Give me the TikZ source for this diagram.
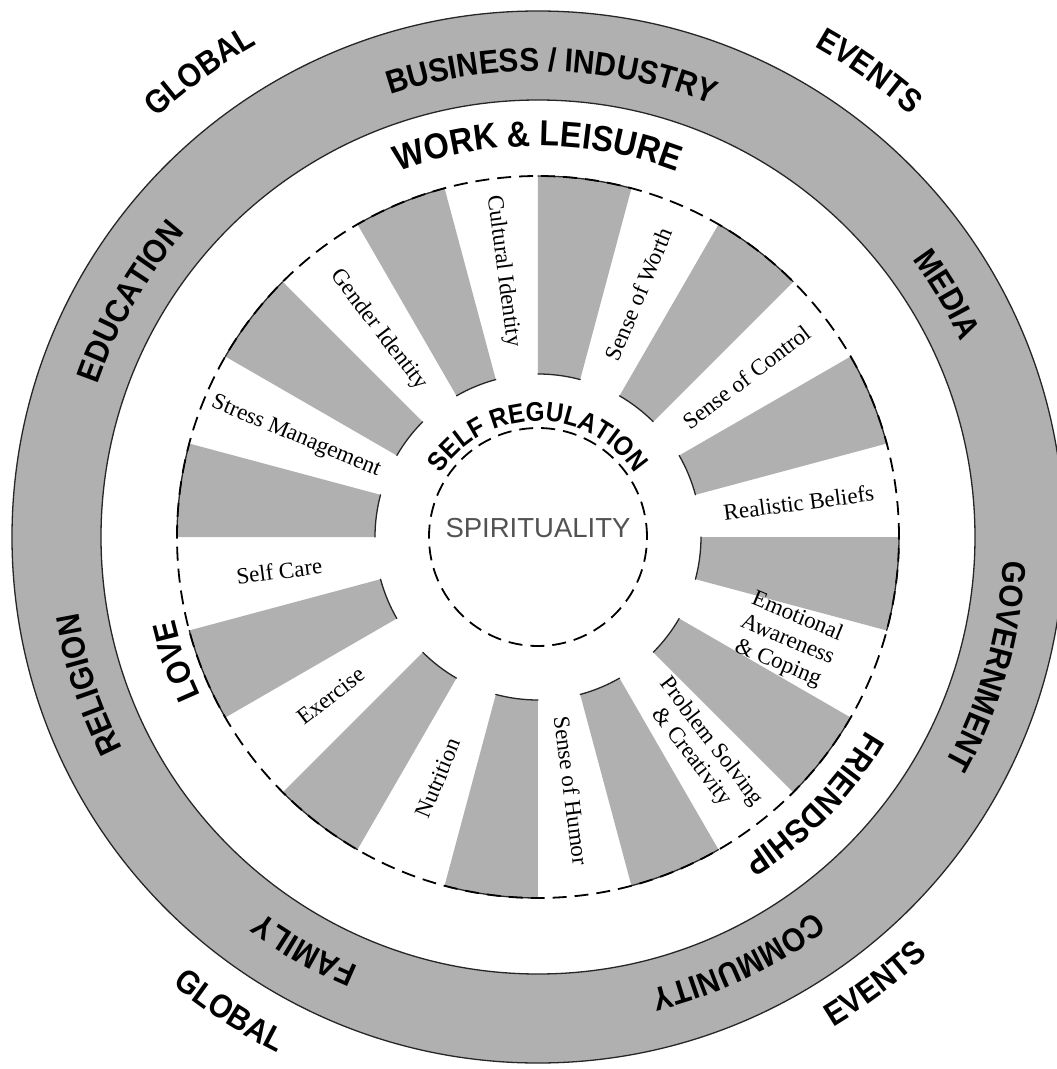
\documentclass[tikz,border=0pt]{standalone}
\usepackage{fontspec}
\setmainfont{Liberation Serif}
\setsansfont{Liberation Sans}
\newfontfamily\capsfont{Liberation Sans Bold}[FakeStretch=0.9]
\usetikzlibrary{decorations.text}

\definecolor{spokegray}{gray}{0.69}
\newcommand\ringtype{\capsfont\fontsize{33}{36}\selectfont}
\newcommand\lifetype{\capsfont\fontsize{36}{40}\selectfont}
\newcommand\hubtype{\capsfont\fontsize{27}{30}\selectfont}

\begin{document}
\begin{tikzpicture}[x=1pt, y=1pt, line join=round, line cap=round,
    edge/.style={line width=1.3pt, black!85},
    dashring/.style={line width=1.8pt, line cap=butt, dash pattern=on 14pt off 8pt},
    spokelabel/.style={font=\rmfamily\fontsize{23}{25}\selectfont, align=center, inner sep=0pt},
    curved/.style 2 args={decorate, decoration={text along path, text align=center, text={|#1|#2}}}]
	\pgfmathsetmacro{\Rhub}{109}
	\pgfmathsetmacro{\Rin}{163}
	\pgfmathsetmacro{\Rwheel}{361}
	\pgfmathsetmacro{\Rring}{437}
	\pgfmathsetmacro{\Rout}{526}
	
	\useasboundingbox (-538,-532) rectangle (519,537);
	\clip (-538,-532) rectangle (519,537);
	\fill[white] (-538,-532) rectangle (519,537);
	\coordinate (C) at (0,0);
	
	% outer band
	\fill[spokegray, even odd rule] (C) circle[radius=\Rout] (C) circle[radius=\Rring];
	\draw[edge] (C) circle[radius=\Rout] (C) circle[radius=\Rring];
	
	% grey spokes
	\foreach \a in {15,45,...,345}{
		\fill[spokegray] (\a:\Rin) arc[start angle=\a, end angle=\a+15, radius=\Rin]
			-- ({\a+15}:\Rwheel) arc[start angle=\a+15, end angle=\a, radius=\Rwheel] -- cycle;
		\draw[edge] (\a:\Rin) arc[start angle=\a, end angle=\a+15, radius=\Rin];
		\draw[edge] (\a:\Rwheel) arc[start angle=\a, end angle=\a+15, radius=\Rwheel];
	}
	
	\draw[dashring] (C) circle[radius=\Rwheel];
	\draw[dashring] (C) circle[radius=\Rhub];
	
	% spoke names
	\foreach \i/\rr/\txt in {0/263/Realistic Beliefs, 1/263/Sense of Control, 2/263/Sense of Worth,
		3/268/Cultural Identity, 4/261/Gender Identity, 5/262/Stress Management, 6/261/Self Care,
		7/261/Exercise, 8/261/Nutrition, 9/256/Sense of Humor,
		10/268/{Problem Solving\\\& Creativity}, 11/270/{Emotional\\Awareness\\\& Coping}}{
		\pgfmathsetmacro{\ang}{30*\i+7.5}
		\pgfmathsetmacro{\rot}{ifthenelse(and(\ang>90,\ang<270),\ang-180,\ang)}
		\node[spokelabel, rotate=\rot] (lbl\i) at (\ang:\rr) {\txt};
	}
	
	\node[font=\sffamily\fontsize{27.5}{30}\selectfont, text=black!68, inner sep=0pt] (spirit) at (0,9) {SPIRITUALITY};
	
	% names along the circles
	\path[curved={\hubtype}{SELF REGULATION}] (170:116) arc[start angle=170, end angle=10, radius=116];
	\path[curved={\lifetype}{WORK {\&} LEISURE}] (130:391) arc[start angle=130, end angle=50, radius=391];
	\path[curved={\ringtype}{FRIENDSHIP}] (-4:381) arc[start angle=-4, end angle=-84, radius=381];
	\path[curved={\ringtype}{LOVE}] (224:373) arc[start angle=224, end angle=174, radius=373];
	
	\path[curved={\ringtype}{BUSINESS / INDUSTRY}] (128.3:466) arc[start angle=128.3, end angle=48.3, radius=466];
	\path[curved={\ringtype}{MEDIA}] (60.7:466) arc[start angle=60.7, end angle=0.7, radius=466];
	\path[curved={\ringtype}{GOVERNMENT}] (24:466) arc[start angle=24, end angle=-56, radius=466];
	\path[curved={\ringtype}{COMMUNITY}] (-24.8:466) arc[start angle=-24.8, end angle=-104.8, radius=466];
	\path[curved={\ringtype}{FAMILY}] (280.5:466) arc[start angle=280.5, end angle=200.5, radius=466];
	\path[curved={\ringtype}{RELIGION}] (238.2:466) arc[start angle=238.2, end angle=158.2, radius=466];
	\path[curved={\ringtype}{EDUCATION}] (190:466) arc[start angle=190, end angle=110, radius=466];
	
	\path[curved={\ringtype}{GLOBAL}] (156:567) arc[start angle=156, end angle=96, radius=567];
	\path[curved={\ringtype}{EVENTS}] (84.6:563) arc[start angle=84.6, end angle=24.6, radius=563];
	\path[curved={\ringtype}{GLOBAL}] (207:578) arc[start angle=207, end angle=267, radius=578];
	\path[curved={\ringtype}{EVENTS}] (-83:572) arc[start angle=-83, end angle=-23, radius=572];
\end{tikzpicture}
\end{document}
